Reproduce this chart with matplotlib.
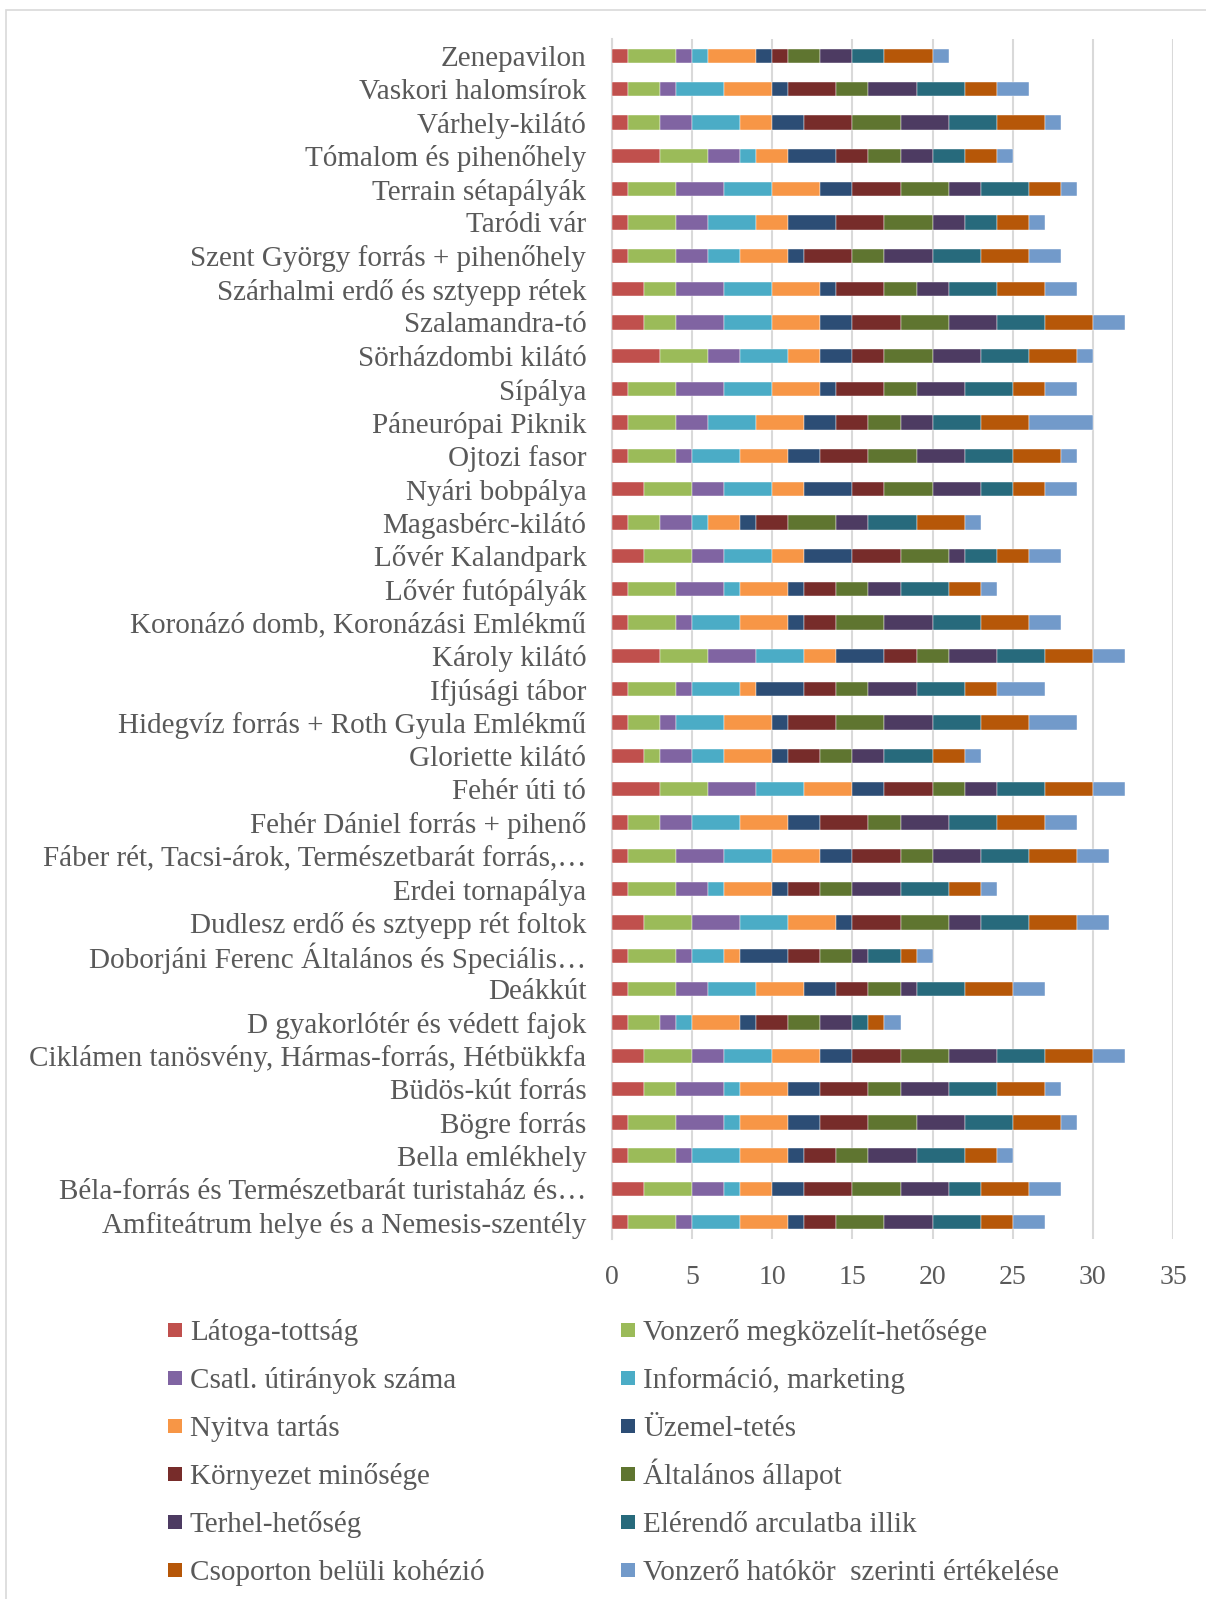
import matplotlib
matplotlib.use("Agg")
import matplotlib.pyplot as plt
from matplotlib.patches import Rectangle
import numpy as np

# Attractions (top to bottom as displayed)
categories = [
    "Zenepavilon",
    "Vaskori halomsírok",
    "Várhely-kilátó",
    "Tómalom és pihenőhely",
    "Terrain sétapályák",
    "Taródi vár",
    "Szent György forrás + pihenőhely",
    "Szárhalmi erdő és sztyepp rétek",
    "Szalamandra-tó",
    "Sörházdombi kilátó",
    "Sípálya",
    "Páneurópai Piknik",
    "Ojtozi fasor",
    "Nyári bobpálya",
    "Magasbérc-kilátó",
    "Lővér Kalandpark",
    "Lővér futópályák",
    "Koronázó domb, Koronázási Emlékmű",
    "Károly kilátó",
    "Ifjúsági tábor",
    "Hidegvíz forrás + Roth Gyula Emlékmű",
    "Gloriette kilátó",
    "Fehér úti tó",
    "Fehér Dániel forrás + pihenő",
    "Fáber rét, Tacsi-árok, Természetbarát forrás,…",
    "Erdei tornapálya",
    "Dudlesz erdő és sztyepp rét foltok",
    "Doborjáni Ferenc Általános és Speciális…",
    "Deákkút",
    "D gyakorlótér és védett fajok",
    "Ciklámen tanösvény, Hármas-forrás, Hétbükkfa",
    "Büdös-kút forrás",
    "Bögre forrás",
    "Bella emlékhely",
    "Béla-forrás és Természetbarát turistaház és…",
    "Amfiteátrum helye és a Nemesis-szentély",
]

series_names = [
    "Látoga-tottság",
    "Vonzerő megközelít-hetősége",
    "Csatl. útirányok száma",
    "Információ, marketing",
    "Nyitva tartás",
    "Üzemel-tetés",
    "Környezet minősége",
    "Általános állapot",
    "Terhel-hetőség",
    "Elérendő arculatba illik",
    "Csoporton belüli kohézió",
    "Vonzerő hatókör  szerinti értékelése",
]

# Scores per attraction, one column per criterion (same order as series_names)
scores = [
    [1, 3, 1, 1, 3, 1, 1, 2, 2, 2, 3, 1],  # Zenepavilon
    [1, 2, 1, 3, 3, 1, 3, 2, 3, 3, 2, 2],  # Vaskori halomsírok
    [1, 2, 2, 3, 2, 2, 3, 3, 3, 3, 3, 1],  # Várhely-kilátó
    [3, 3, 2, 1, 2, 3, 2, 2, 2, 2, 2, 1],  # Tómalom és pihenőhely
    [1, 3, 3, 3, 3, 2, 3, 3, 2, 3, 2, 1],  # Terrain sétapályák
    [1, 3, 2, 3, 2, 3, 3, 3, 2, 2, 2, 1],  # Taródi vár
    [1, 3, 2, 2, 3, 1, 3, 2, 3, 3, 3, 2],  # Szent György forrás
    [2, 2, 3, 3, 3, 1, 3, 2, 2, 3, 3, 2],  # Szárhalmi erdő
    [2, 2, 3, 3, 3, 2, 3, 3, 3, 3, 3, 2],  # Szalamandra-tó
    [3, 3, 2, 3, 2, 2, 2, 3, 3, 3, 3, 1],  # Sörházdombi kilátó
    [1, 3, 3, 3, 3, 1, 3, 2, 3, 3, 2, 2],  # Sípálya
    [1, 3, 2, 3, 3, 2, 2, 2, 2, 3, 3, 4],  # Páneurópai Piknik
    [1, 3, 1, 3, 3, 2, 3, 3, 3, 3, 3, 1],  # Ojtozi fasor
    [2, 3, 2, 3, 2, 3, 2, 3, 3, 2, 2, 2],  # Nyári bobpálya
    [1, 2, 2, 1, 2, 1, 2, 3, 2, 3, 3, 1],  # Magasbérc-kilátó
    [2, 3, 2, 3, 2, 3, 3, 3, 1, 2, 2, 2],  # Lővér Kalandpark
    [1, 3, 3, 1, 3, 1, 2, 2, 2, 3, 2, 1],  # Lővér futópályák
    [1, 3, 1, 3, 3, 1, 2, 3, 3, 3, 3, 2],  # Koronázó domb
    [3, 3, 3, 3, 2, 3, 2, 2, 3, 3, 3, 2],  # Károly kilátó
    [1, 3, 1, 3, 1, 3, 2, 2, 3, 3, 2, 3],  # Ifjúsági tábor
    [1, 2, 1, 3, 3, 1, 3, 3, 3, 3, 3, 3],  # Hidegvíz forrás
    [2, 1, 2, 2, 3, 1, 2, 2, 2, 3, 2, 1],  # Gloriette kilátó
    [3, 3, 3, 3, 3, 2, 3, 2, 2, 3, 3, 2],  # Fehér úti tó
    [1, 2, 2, 3, 3, 2, 3, 2, 3, 3, 3, 2],  # Fehér Dániel forrás
    [1, 3, 3, 3, 3, 2, 3, 2, 3, 3, 3, 2],  # Fáber rét
    [1, 3, 2, 1, 3, 1, 2, 2, 3, 3, 2, 1],  # Erdei tornapálya
    [2, 3, 3, 3, 3, 1, 3, 3, 2, 3, 3, 2],  # Dudlesz erdő
    [1, 3, 1, 2, 1, 3, 2, 2, 1, 2, 1, 1],  # Doborjáni Ferenc
    [1, 3, 2, 3, 3, 2, 2, 2, 1, 3, 3, 2],  # Deákkút
    [1, 2, 1, 1, 3, 1, 2, 2, 2, 1, 1, 1],  # D gyakorlótér
    [2, 3, 2, 3, 3, 2, 3, 3, 3, 3, 3, 2],  # Ciklámen tanösvény
    [2, 2, 3, 1, 3, 2, 3, 2, 3, 3, 3, 1],  # Büdös-kút forrás
    [1, 3, 3, 1, 3, 2, 3, 3, 3, 3, 3, 1],  # Bögre forrás
    [1, 3, 1, 3, 3, 1, 2, 2, 3, 3, 2, 1],  # Bella emlékhely
    [2, 3, 2, 1, 2, 2, 3, 3, 3, 2, 3, 2],  # Béla-forrás
    [1, 3, 1, 3, 3, 1, 2, 3, 3, 3, 2, 2],  # Amfiteátrum
]

x_ticks = [0, 5, 10, 15, 20, 25, 30, 35]

colors = [
    "#C0504D", "#9BBB59", "#8064A2", "#4BACC6", "#F79646", "#2C4D75",
    "#772C2A", "#5F7530", "#4D3B62", "#276A7C", "#B65708", "#729ACA",
]

TEXT = "#595959"
GRID = "#D9D9D9"
SERIF = ["Liberation Serif", "DejaVu Serif"]

W, H = 1206, 1599
fig = plt.figure(figsize=(W / 100, H / 100), dpi=100)
fig.patch.set_facecolor("white")

# chart-area frame
fig.add_artist(Rectangle((6 / W, -0.1), 1.2, 1 - 10 / H + 0.1, transform=fig.transFigure,
                         fill=False, edgecolor=GRID, linewidth=1.2))

left, right, top, bottom = 612, 1173, 39, 1239
ax = fig.add_axes([left / W, 1 - bottom / H, (right - left) / W, (bottom - top) / H])

data = np.array(scores, dtype=float)
y = np.arange(len(categories))
cum = np.zeros(len(categories))
for j, name in enumerate(series_names):
    ax.barh(y, data[:, j], left=cum, height=0.43, color=colors[j],
            edgecolor="white", linewidth=0.3, label=name, zorder=3)
    cum += data[:, j]

ax.set_ylim(len(categories) - 0.5, -0.5)
ax.set_xlim(0, 35)
ax.set_xticks(x_ticks)
ax.set_xticklabels([str(t) for t in x_ticks])
ax.set_yticks(y)
ax.set_yticklabels(categories)

ax.grid(axis="x", color=GRID, linewidth=1.5, zorder=0)
ax.set_axisbelow(True)
for s in ["top", "right", "bottom"]:
    ax.spines[s].set_visible(False)
ax.spines["left"].set_color(GRID)
ax.spines["left"].set_linewidth(1.5)
ax.tick_params(axis="both", length=0)
ax.tick_params(axis="y", pad=18.5)
ax.tick_params(axis="x", pad=19)
for lbl in ax.get_yticklabels():
    lbl.set_fontfamily(SERIF)
    lbl.set_fontsize(21)
    lbl.set_color(TEXT)
for lbl in ax.get_xticklabels():
    lbl.set_fontfamily(SERIF)
    lbl.set_fontsize(20)
    lbl.set_color(TEXT)

# two-column legend, filled row by row with a fixed row pitch
leg_cols_px = [168, 621]
leg_row0_px, leg_pitch_px, key_px = 1330, 48, 14
for j, name in enumerate(series_names):
    col, row = j % 2, j // 2
    xk = leg_cols_px[col]
    yc = leg_row0_px + row * leg_pitch_px
    fig.add_artist(Rectangle((xk / W, 1 - (yc + key_px / 2) / H), key_px / W, key_px / H,
                             transform=fig.transFigure, facecolor=colors[j], edgecolor="none"))
    fig.text((xk + key_px + 8) / W, 1 - (yc + 10) / H, name, ha="left", va="baseline",
             fontfamily=SERIF, fontsize=21, color=TEXT)

fig.savefig("out.png", dpi=100, facecolor="white")
